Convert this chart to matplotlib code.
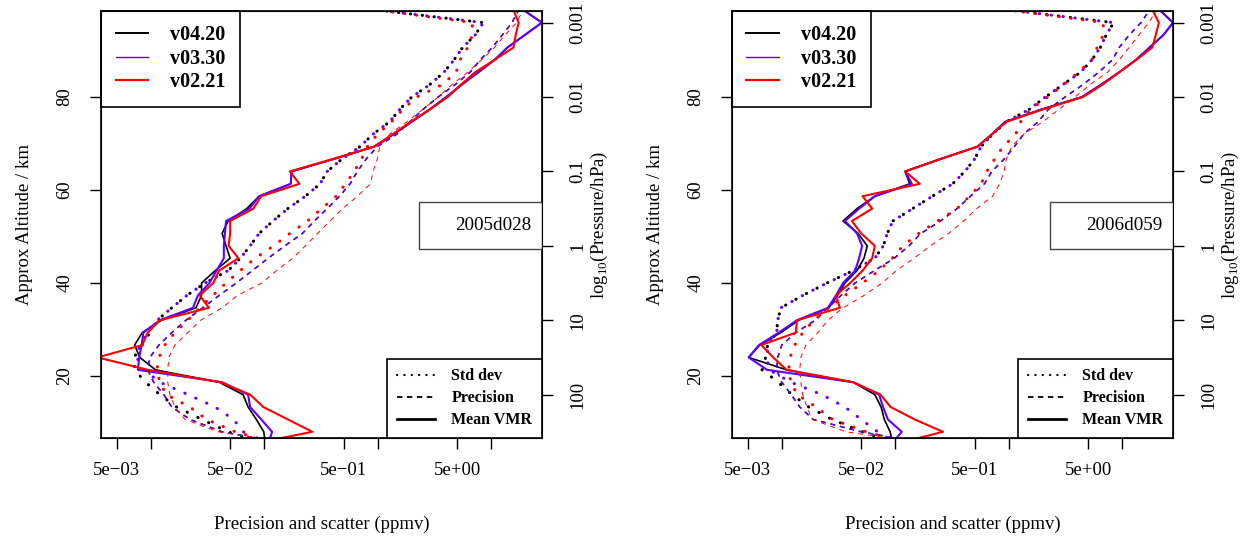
import numpy as np
import matplotlib
matplotlib.use("Agg")
import matplotlib.pyplot as plt
from matplotlib.lines import Line2D
from matplotlib.patches import Rectangle

plt.rcParams['font.family'] = ['Liberation Serif', 'DejaVu Serif']
plt.rcParams['mathtext.fontset'] = 'custom'
plt.rcParams['mathtext.rm'] = 'Liberation Serif'

# retrieval pressure levels (hPa), 6 per decade
levels_hpa = [464.2, 316.2, 215.4, 146.8, 100.0, 68.13, 46.42, 31.62, 21.54, 14.68,
              10.0, 6.813, 4.642, 3.162, 2.154, 1.468, 1.0, 0.6813, 0.4642, 0.3162,
              0.2154, 0.1468, 0.1, 0.06813, 0.04642, 0.03162, 0.02154, 0.01468, 0.01, 0.006813,
              0.004642, 0.003162, 0.002154, 0.001468, 0.001, 0.0006813]

versions = ["v04.20", "v03.30", "v02.21"]
colours = ["black", "#6000ff", "red"]

# ---- 2005d028 (ppmv) ----
d1_mean_v420 = [0.102, 0.099, 0.085, 0.072, 0.065, 0.040, 0.011, 0.0080, 0.0072, 0.0084,
                0.0124, 0.025, 0.028, 0.028, 0.037, 0.050, 0.046, 0.0425, 0.048, 0.070,
                0.090, 0.171, 0.174, 0.41, 0.93, 1.38, 1.99, 2.87, 4.0, 5.5,
                7.7, 10.7, 13.9, 19.7, 27.9, 19.3]
d1_mean_v330 = [0.108, 0.117, 0.094, 0.075, 0.072, 0.0425, 0.0077, 0.0079, 0.0083, 0.0086,
                0.012, 0.0235, 0.026, 0.0328, 0.038, 0.044, 0.044, 0.045, 0.046, 0.074,
                0.090, 0.171, 0.174, 0.41, 0.93, 1.38, 1.99, 2.87, 4.0, 5.5,
                7.7, 10.7, 13.9, 19.7, 27.9, 19.3]
d1_mean_v221 = [0.075, 0.265, 0.161, 0.098, 0.075, 0.041, 0.0094, 0.0034, 0.0084, 0.0094,
                0.012, 0.0325, 0.027, 0.0355, 0.040, 0.059, 0.0485, 0.050, 0.050, 0.080,
                0.094, 0.204, 0.168, 0.40, 0.93, 1.35, 1.95, 2.87, 4.13, 5.4,
                7.2, 10.7, 15.7, 16.4, 17.4, 15.7]
d1_prec_v420 = [0.17, 0.0425, 0.0221, 0.0153, 0.013, 0.0106, 0.0094, 0.0098, 0.0118, 0.0153,
                0.0204, 0.0286, 0.040, 0.0566, 0.0785, 0.108, 0.152, 0.217, 0.276, 0.358,
                0.46, 0.57, 0.66, 0.79, 0.99, 1.47, 1.91, 2.5, 3.4, 4.8,
                6.5, 8.0, 10.2, 12.5, 15.2, 17.4]
d1_prec_v330 = [0.17, 0.0425, 0.0221, 0.0153, 0.013, 0.0106, 0.0094, 0.0098, 0.0118, 0.0153,
                0.0204, 0.0286, 0.040, 0.0566, 0.0785, 0.108, 0.152, 0.217, 0.276, 0.358,
                0.46, 0.57, 0.66, 0.79, 0.99, 1.47, 1.91, 2.5, 3.4, 4.8,
                6.5, 8.0, 10.2, 12.5, 15.2, 17.4]
d1_prec_v221 = [0.204, 0.039, 0.0200, 0.0163, 0.0147, 0.0141, 0.0141, 0.0144, 0.0163, 0.0212,
                0.0275, 0.0425, 0.058, 0.095, 0.128, 0.178, 0.23, 0.295, 0.38, 0.49,
                0.66, 0.86, 0.91, 0.99, 1.04, 1.27, 1.8, 2.5, 3.4, 4.5,
                6.2, 8.2, 10.7, 13.2, 16.7, 19.0]
d1_std_v420 = [0.10, 0.048, 0.0282, 0.0169, 0.012, 0.009, 0.0072, 0.0071, 0.0084, 0.0098,
               0.0114, 0.0153, 0.0208, 0.030, 0.048, 0.0615, 0.075, 0.090, 0.119, 0.161,
               0.23, 0.31, 0.358, 0.483, 0.697, 0.905, 1.27, 1.56, 1.99, 2.87,
               3.83, 4.7, 5.6, 7.2, 8.5, 1.04]
d1_std_v330 = [0.10, 0.0654, 0.0535, 0.0368, 0.0213, 0.012, 0.0087, 0.0075, 0.0080, 0.0093,
               0.0114, 0.0153, 0.0208, 0.030, 0.048, 0.0615, 0.075, 0.090, 0.119, 0.161,
               0.23, 0.31, 0.358, 0.483, 0.697, 0.905, 1.27, 1.56, 1.99, 2.87,
               3.83, 4.7, 5.6, 7.2, 8.5, 1.04]
d1_std_v221 = [0.138, 0.0555, 0.031, 0.0221, 0.0137, 0.012, 0.0113, 0.0118, 0.0133, 0.0163,
               0.0212, 0.027, 0.0353, 0.046, 0.0615, 0.083, 0.121, 0.168, 0.24, 0.32,
               0.43, 0.52, 0.62, 0.72, 0.81, 0.99, 1.32, 1.66, 2.2, 3.7,
               4.9, 5.3, 6.2, 6.8, 6.8, 1.04]

# ---- 2006d059 (ppmv) ----
d2_mean_v420 = [0.095, 0.090, 0.080, 0.075, 0.066, 0.0425, 0.011, 0.0051, 0.0064, 0.0098,
                0.0141, 0.026, 0.031, 0.036, 0.046, 0.053, 0.0566, 0.047, 0.0346, 0.046,
                0.066, 0.134, 0.122, 0.25, 0.53, 0.71, 0.93, 1.94, 4.4, 6.5,
                9.4, 13.2, 17.4, 23.0, 28.0, 21.4]
d2_mean_v330 = [0.092, 0.114, 0.086, 0.078, 0.072, 0.0425, 0.0074, 0.0051, 0.0063, 0.0094,
                0.0136, 0.0255, 0.030, 0.0346, 0.0443, 0.048, 0.051, 0.046, 0.036, 0.048,
                0.066, 0.140, 0.122, 0.25, 0.53, 0.71, 0.93, 1.94, 4.4, 6.5,
                9.4, 13.2, 17.4, 23.0, 28.0, 21.4]
d2_mean_v221 = [0.098, 0.263, 0.148, 0.091, 0.074, 0.0425, 0.011, 0.0084, 0.0066, 0.0133,
                0.0136, 0.0325, 0.030, 0.040, 0.0515, 0.0625, 0.066, 0.050, 0.0415, 0.0625,
                0.0515, 0.164, 0.122, 0.25, 0.53, 0.71, 0.95, 1.99, 4.5, 6.7,
                9.4, 13.3, 18.4, 19.7, 21.0, 18.5]
d2_prec_v420 = [0.204, 0.050, 0.0189, 0.0144, 0.0121, 0.010, 0.0090, 0.0092, 0.010, 0.0133,
                0.0197, 0.0255, 0.0332, 0.0443, 0.0654, 0.098, 0.132, 0.168, 0.25, 0.35,
                0.46, 0.61, 0.71, 0.91, 1.12, 1.35, 1.81, 2.23, 3.13, 4.5,
                6.2, 8.2, 9.4, 11.5, 14.6, 17.4]
d2_prec_v330 = [0.204, 0.050, 0.0189, 0.0144, 0.0121, 0.010, 0.0090, 0.0092, 0.010, 0.0133,
                0.0197, 0.0255, 0.0332, 0.0443, 0.0654, 0.098, 0.132, 0.168, 0.25, 0.35,
                0.46, 0.61, 0.71, 0.91, 1.12, 1.35, 1.81, 2.23, 3.13, 4.5,
                6.2, 8.2, 9.4, 11.5, 14.6, 17.4]
d2_prec_v221 = [0.204, 0.0368, 0.0185, 0.0166, 0.0153, 0.0147, 0.0144, 0.0147, 0.0163, 0.0208,
                0.0255, 0.0346, 0.053, 0.0765, 0.102, 0.146, 0.204, 0.295, 0.40, 0.52,
                0.72, 0.83, 0.91, 0.95, 1.06, 1.35, 1.99, 2.76, 3.83, 5.2,
                7.4, 9.4, 11.5, 14.0, 17.1, 20.0]
d2_std_v420 = [0.102, 0.0518, 0.0276, 0.0173, 0.0123, 0.0093, 0.0067, 0.0072, 0.0075, 0.009,
               0.0092, 0.0098, 0.0153, 0.025, 0.0425, 0.066, 0.0785, 0.085, 0.095, 0.142,
               0.212, 0.32, 0.41, 0.50, 0.57, 0.72, 0.95, 1.51, 2.10, 2.99,
               4.3, 5.4, 6.4, 7.2, 8.4, 1.04]
d2_std_v330 = [0.102, 0.070, 0.050, 0.036, 0.0225, 0.012, 0.0077, 0.0074, 0.0075, 0.009,
               0.0092, 0.0098, 0.0153, 0.025, 0.0425, 0.066, 0.0785, 0.085, 0.095, 0.142,
               0.212, 0.32, 0.41, 0.50, 0.57, 0.72, 0.95, 1.51, 2.10, 2.99,
               4.3, 5.4, 6.4, 7.2, 8.4, 1.04]
d2_std_v221 = [0.138, 0.0555, 0.028, 0.0200, 0.0137, 0.012, 0.0115, 0.0118, 0.013, 0.0153,
               0.0192, 0.026, 0.036, 0.0515, 0.072, 0.094, 0.117, 0.161, 0.236, 0.35,
               0.45, 0.57, 0.64, 0.75, 0.89, 1.15, 1.27, 1.56, 2.2, 3.05,
               4.1, 5.4, 6.0, 6.8, 6.8, 1.04]

days = ["2005d028", "2006d059"]
panels = [
    ([d1_std_v420, d1_std_v330, d1_std_v221],
     [d1_prec_v420, d1_prec_v330, d1_prec_v221],
     [d1_mean_v420, d1_mean_v330, d1_mean_v221]),
    ([d2_std_v420, d2_std_v330, d2_std_v221],
     [d2_prec_v420, d2_prec_v330, d2_prec_v221],
     [d2_mean_v420, d2_mean_v330, d2_mean_v221]),
]

xticks = [5e-3, 1e-2, 5e-2, 1e-1, 5e-1, 1, 5, 10]
xticklabels = ["5e\u221203", "", "5e\u221202", "", "5e\u221201", "", "5e+00", ""]
p_ticks = [100, 10, 1, 0.1, 0.01, 0.001]
p_labels = ["100", "10", "1", "0.1", "0.01", "0.001"]


def p_to_alt(p):
    # approximate altitude, 16 km per decade of pressure
    return 16.0 * (3.0 - np.log10(np.asarray(p, dtype=float)))


alt = p_to_alt(levels_hpa)
fs = 13.5
dots = (0, (0.1, 3.8))

fig = plt.figure(figsize=(12.42, 5.36), dpi=100)
lefts = [101 / 1242, 732 / 1242]

for i in range(2):
    ax = fig.add_axes([lefts[i], 98 / 536, 440.7 / 1242, 427 / 536])
    stds, precs, means = panels[i]
    mean_lw = [1.2, 1.5, 1.5]
    prec_lw = [1.0, 1.0, 0.7]
    for v in range(3):
        c = colours[v]
        ax.plot(stds[v], alt, color=c, lw=2.2, linestyle=dots, dash_capstyle='round')
        ax.plot(precs[v], alt, color=c, lw=prec_lw[v],
                linestyle=(0, (3.5, 3.5)) if v < 2 else (0, (5, 5)))
        ax.plot(means[v], alt, color=c, lw=mean_lw[v])

    ax.set_xscale('log')
    ax.set_xlim(3.64e-3, 27.8)
    ax.set_ylim(6.67, 98.5)
    ax.minorticks_off()
    ax.set_xticks(xticks)
    ax.set_xticklabels(xticklabels)
    ax.set_yticks([20, 40, 60, 80])
    ax.tick_params(axis='x', direction='out', length=8, width=1, pad=9, labelsize=fs)
    ax.tick_params(axis='y', direction='out', length=8, width=1, pad=12, labelsize=fs)
    for lbl in ax.get_yticklabels():
        lbl.set_rotation(90)
        lbl.set_va('center')
    for s in ax.spines.values():
        s.set_linewidth(1.2)
    ax.set_xlabel("Precision and scatter (ppmv)", fontsize=fs, labelpad=27)
    ax.set_ylabel("Approx Altitude / km", fontsize=fs, labelpad=17)

    ax2 = ax.twinx()
    ax2.set_ylim(ax.get_ylim())
    ax2.set_yticks(p_to_alt(p_ticks))
    ax2.set_yticklabels(p_labels)
    ax2.tick_params(axis='y', direction='out', length=8, width=1, pad=12, labelsize=fs)
    for lbl in ax2.get_yticklabels():
        lbl.set_rotation(90)
        lbl.set_va('center')
    ax2.set_ylabel(r"log$_{10}$(Pressure/hPa)", fontsize=fs, labelpad=2)

    # version legend
    vh = [Line2D([], [], color=colours[v], lw=[1.4, 1.0, 1.6][v]) for v in range(3)]
    leg1 = ax.legend(vh, versions, loc='upper left', bbox_to_anchor=(0, 1),
                     borderaxespad=0, fancybox=False, edgecolor='black', framealpha=1,
                     handlelength=1.6, handletextpad=1.1, labelspacing=0.17, borderpad=0.72,
                     prop={'family': 'Liberation Serif', 'weight': 'bold', 'size': 14.5})
    leg1.get_frame().set_linewidth(1.2)
    ax.add_artist(leg1)

    # line-type legend
    th = [Line2D([], [], color='black', lw=1.6, linestyle=(0, (0.1, 3.2)), dash_capstyle='round'),
          Line2D([], [], color='black', lw=1.3, linestyle=(0, (3, 2.5))),
          Line2D([], [], color='black', lw=2.0)]
    leg2 = ax.legend(th, ["Std dev", "Precision", "Mean VMR"], loc='lower right',
                     bbox_to_anchor=(1, 0), borderaxespad=0, fancybox=False,
                     edgecolor='black', framealpha=1, handlelength=2.4, handletextpad=1.0,
                     labelspacing=0.38, borderpad=0.6,
                     prop={'family': 'Liberation Serif', 'weight': 'bold', 'size': 11.5})
    leg2.get_frame().set_linewidth(1.2)

    # day label box
    ax.add_patch(Rectangle((0.722, 0.4426), 0.278, 0.1108, transform=ax.transAxes,
                           fill=True, facecolor='white', edgecolor='#444444', lw=1.0,
                           zorder=5))
    ax.text(0.889, 0.497, days[i], transform=ax.transAxes, ha='center', va='center',
            fontsize=13.8, zorder=6)

fig.savefig("out.png", dpi=100)
